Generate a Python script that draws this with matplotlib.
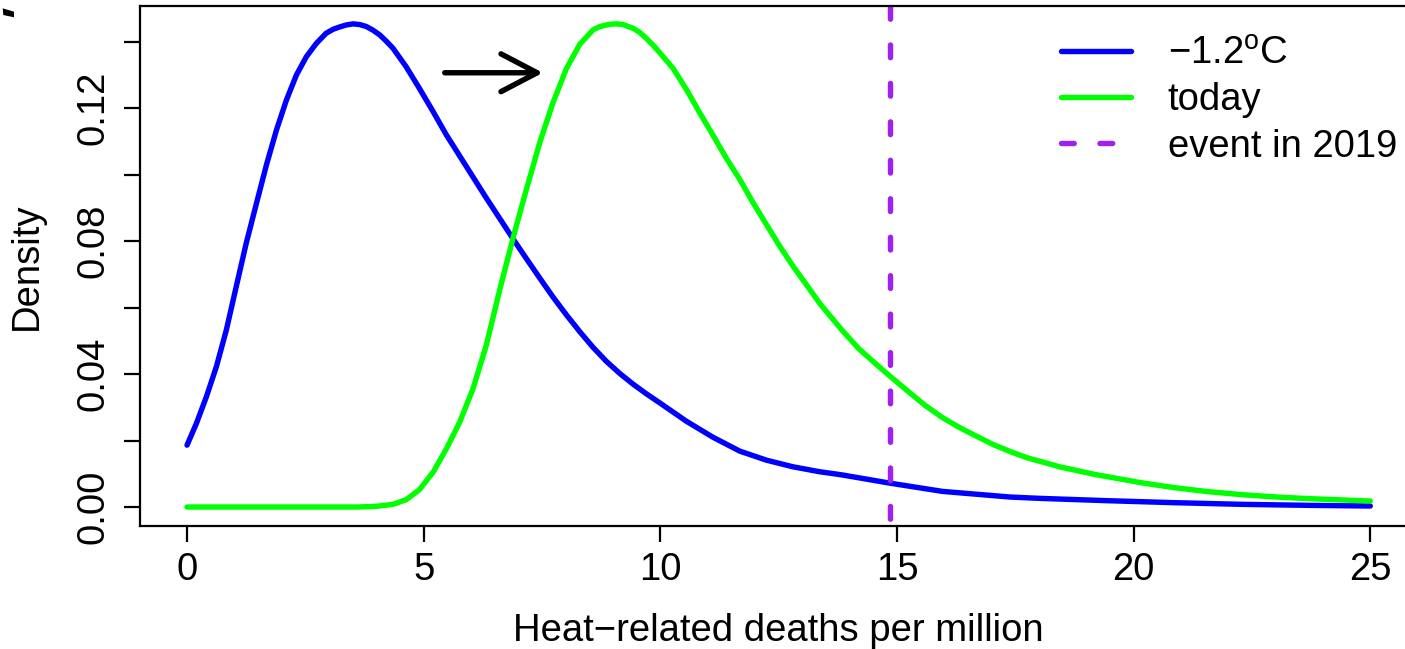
import matplotlib
matplotlib.use("Agg")
import matplotlib.pyplot as plt
from matplotlib.patches import Polygon

plt.rcParams['font.family'] = ['Liberation Sans', 'DejaVu Sans']
plt.rcParams['mathtext.fontset'] = 'custom'
plt.rcParams['mathtext.rm'] = 'Liberation Sans'
plt.rcParams['axes.unicode_minus'] = True

# ---- data ----
blue_x = [0.00, 0.20, 0.41, 0.62, 0.83, 1.04, 1.25, 1.47, 1.68, 1.89, 2.10, 2.31,
          2.52, 2.73, 2.94, 3.09, 3.23, 3.37, 3.51, 3.65, 3.79, 3.93, 4.07, 4.21,
          4.35, 4.63, 4.91, 5.20, 5.48, 5.76, 6.04, 6.32, 6.61, 6.89, 7.17, 7.45,
          7.73, 8.02, 8.30, 8.58, 8.86, 9.14, 9.42, 9.70, 9.99, 10.55, 11.11,
          11.68, 12.24, 12.80, 13.37, 13.82, 14.84, 15.96, 17.39, 18.02, 19.45,
          20.87, 22.30, 23.70, 25.00]
blue_y = [0.0186, 0.0252, 0.0332, 0.0422, 0.0532, 0.0663, 0.0793, 0.0915, 0.1030,
          0.1134, 0.1224, 0.1299, 0.1354, 0.1394, 0.1425, 0.1437, 0.1444, 0.1450,
          0.1453, 0.1451, 0.1445, 0.1434, 0.1420, 0.1401, 0.1380, 0.1324, 0.1259,
          0.1189, 0.1119, 0.1056, 0.0993, 0.0930, 0.0867, 0.0806, 0.0747, 0.0689,
          0.0632, 0.0577, 0.0527, 0.0480, 0.0438, 0.0402, 0.0370, 0.0341, 0.0313,
          0.0258, 0.0210, 0.0168, 0.0141, 0.0121, 0.0106, 0.0097, 0.0072, 0.0047,
          0.0030, 0.0026, 0.0019, 0.0013, 0.0008, 0.0005, 0.0003]

green_x = [0.00, 3.60, 4.00, 4.35, 4.63, 4.91, 5.20, 5.48, 5.76, 6.04, 6.32, 6.61,
           6.89, 7.17, 7.45, 7.73, 8.02, 8.30, 8.58, 8.72, 8.93, 9.07, 9.21, 9.42,
           9.56, 9.70, 9.84, 9.99, 10.27, 10.55, 10.83, 11.11, 11.39, 11.68, 11.96,
           12.24, 12.52, 12.80, 13.09, 13.37, 13.82, 14.18, 14.54, 14.84, 15.25,
           15.60, 15.96, 16.32, 16.68, 17.03, 17.39, 17.75, 18.11, 18.46, 19.18,
           20.16, 20.87, 21.59, 22.30, 23.02, 23.73, 25.00]
green_y = [0.0000, 0.0000, 0.0002, 0.0008, 0.0022, 0.0052, 0.0105, 0.0175, 0.0255,
           0.0355, 0.0485, 0.0655, 0.0810, 0.0955, 0.1095, 0.1215, 0.1320, 0.1392,
           0.1435, 0.1445, 0.1452, 0.1453, 0.1451, 0.1440, 0.1428, 0.1410, 0.1390,
           0.1366, 0.1319, 0.1256, 0.1186, 0.1119, 0.1050, 0.0985, 0.0915, 0.0850,
           0.0785, 0.0725, 0.0668, 0.0612, 0.0535, 0.0478, 0.0432, 0.0395, 0.0346,
           0.0305, 0.0269, 0.0239, 0.0213, 0.0188, 0.0167, 0.0148, 0.0134, 0.0120,
           0.0098, 0.0073, 0.0058, 0.0046, 0.0037, 0.0030, 0.0025, 0.0018]

event_x = 14.85
arrow_from = (5.445, 0.1306)
arrow_to = (7.52, 0.1306)

x_ticks = [0, 5, 10, 15, 20, 25]
y_ticks = [0.00, 0.02, 0.04, 0.06, 0.08, 0.10, 0.12, 0.14]
y_tick_labels = ["0.00", "", "0.04", "", "0.08", "", "0.12", ""]

labels = ["\u22121.2$^{\\mathrm{o}}$C", "today", "event in 2019"]
x_label = "Heat\u2212related deaths per million"
y_label = "Density"

# ---- figure ----
W, H = 1405, 649
fig = plt.figure(figsize=(W / 100, H / 100), dpi=100)
ax = fig.add_axes([139.7 / W, (H - 526) / H, (1417.6 - 139.7) / W, 520 / H])

lw = 3.9
fs = 27.5
xlim = (-1, 26)
ylim = (-0.00571, 0.15068)

ax.plot(blue_x, blue_y, color="#0000FF", lw=lw, solid_capstyle="round",
        solid_joinstyle="round", label=labels[0])
ax.plot(green_x, green_y, color="#00FF00", lw=lw, solid_capstyle="round",
        solid_joinstyle="round", label=labels[1])
ax.plot([event_x, event_x], [ylim[1], ylim[0]], color="#A020F0", lw=lw,
        linestyle=(0, (2.35, 4.75)), dash_capstyle="round", label=labels[2])

ax.annotate("", xy=arrow_to, xytext=arrow_from,
            arrowprops=dict(arrowstyle="->,head_length=1.3,head_width=0.68",
                            lw=lw, color="black", shrinkA=0, shrinkB=0,
                            mutation_scale=20, capstyle="round",
                            joinstyle="round"))

ax.set_xlim(*xlim)
ax.set_ylim(*ylim)
ax.set_xticks(x_ticks)
ax.set_xticklabels([str(v) for v in x_ticks])
ax.set_yticks(y_ticks)
ax.set_yticklabels(y_tick_labels, rotation=90, va="center")

for s in ax.spines.values():
    s.set_linewidth(1.6)
ax.tick_params(axis="both", length=11.5, width=1.6, labelsize=fs, color="black")
ax.tick_params(axis="x", pad=7)
ax.tick_params(axis="y", pad=9)

ax.set_xlabel(x_label, fontsize=fs, labelpad=18)
ax.set_ylabel(y_label, fontsize=fs, labelpad=22)

leg = ax.legend(loc="upper left", bbox_to_anchor=(0.721, 0.942), frameon=False,
                fontsize=fs, handlelength=1.84, handletextpad=0.95,
                labelspacing=0.27, borderpad=0, borderaxespad=0)

# stray mark at the top-left corner (fragment of a cropped panel letter)
pts = [(2.7, 8.3), (14, 11.7), (14, 17.3), (3.3, 15)]
fig.add_artist(Polygon([(px / W, 1 - py / H) for px, py in pts], closed=True,
                       transform=fig.transFigure, color="black", lw=0))

fig.savefig("out.png", dpi=100)
